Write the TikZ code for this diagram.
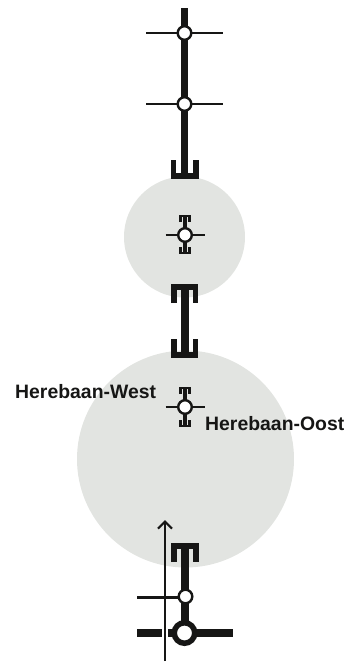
\documentclass[tikz,border=0pt]{standalone}
\usepackage{fontspec}
\setmainfont{Liberation Sans}
\usetikzlibrary{arrows.meta}
\definecolor{zonegrey}{HTML}{E2E4E1}
\definecolor{ink}{HTML}{161615}
\tikzset{
  zone/.style={circle,fill=zonegrey,draw=none,inner sep=0pt,minimum size=#1},
  halt/.style={circle,fill=white,draw=ink,line width=2.4pt,inner sep=0pt,outer sep=0pt,minimum size=13.6pt},
  bighalt/.style={circle,fill=white,draw=ink,line width=5.5pt,inner sep=0pt,outer sep=0pt,minimum size=20.5pt},
  crossline/.style={draw=ink,line width=2pt},
  thinline/.style={draw=ink,line width=3pt},
  mainline/.style={draw=ink,line width=7.5pt},
  wideline/.style={draw=ink,line width=7.5pt},
  forkbig/.style={draw=ink,line width=5.6pt,line cap=butt,miter limit=10},
  forksmall/.style={draw=ink,line width=2.3pt},
  stemsmall/.style={draw=ink,line width=3.6pt},
  label/.style={font=\bfseries\fontsize{19.4}{21}\selectfont,text=ink,inner sep=0pt,anchor=base west},
}
\begin{document}
\begin{tikzpicture}[x=1pt,y=-1pt]
\useasboundingbox (0,0) rectangle (348,662);
\node[zone=121pt] (zoneA) at (184.5,237) {};
\node[zone=217pt] (zoneB) at (185.5,459) {};
% top line
\coordinate (top) at (184.5,8);
\coordinate (u1) at (184.5,176);
\draw[mainline] (top) -- (u1);
\foreach \n/\y in {s1/33,s2/104}{
  \coordinate (\n l) at (146,\y);
  \coordinate (\n r) at (222.5,\y);
  \draw[crossline] (\n l) -- (\n r);
  \node[halt] (\n) at (184.5,\y) {};
}
\draw[forkbig] (173.5,160) -- (173.5,176.2) -- (196,176.2) -- (196,160);
% zone A stop
\draw[stemsmall] (185,216) -- (185,253);
\draw[forksmall] (180.5,222) -- (180.5,216) -- (189.5,216) -- (189.5,222);
\draw[forksmall] (180.5,247) -- (180.5,253) -- (189.5,253) -- (189.5,247);
\coordinate (a1) at (165.5,235);
\coordinate (a2) at (204.5,235);
\draw[crossline] (a1) -- (a2);
\node[halt] (sA) at (185,235) {};
% middle link
\draw[draw=ink,line width=8pt] (185,286) -- (185,355);
\draw[forkbig] (173.8,303) -- (173.8,286.8) -- (195.6,286.8) -- (195.6,303);
\draw[forkbig] (173.8,339) -- (173.8,355) -- (195.6,355) -- (195.6,339);
% zone B stop
\draw[stemsmall] (185,388) -- (185,426);
\draw[forksmall] (180.5,394) -- (180.5,388) -- (189.5,388) -- (189.5,394);
\draw[forksmall] (180.5,420) -- (180.5,426) -- (189.5,426) -- (189.5,420);
\coordinate (b1) at (165.5,407);
\coordinate (b2) at (204.5,407);
\draw[crossline] (b1) -- (b2);
\node[halt] (sB) at (185,407) {};
\node[label] (west) at (15,398) {Herebaan-West};
\node[label] (oost) at (205,430) {Herebaan-Oost};
% bottom
\coordinate (w1) at (137,633);
\coordinate (w2) at (233,633);
\draw[wideline] (w1) -- (w2);
\coordinate (c1) at (137,597);
\draw[thinline] (c1) -- (185.5,597);
\draw[draw=ink,line width=7.5pt] (185,546) -- (185,633);
\draw[forkbig] (173.8,562) -- (173.8,545.8) -- (196.2,545.8) -- (196.2,562);
\node[halt] (sC) at (185.5,596.5) {};
\node[bighalt] (sD) at (184.5,633) {};
\coordinate (ar1) at (165,661);
\coordinate (ar2) at (165,520);
\draw[white,line width=6.5pt] (165,627) -- (165,639);
\draw[draw=ink,line width=2.6pt,-{Straight Barb[length=7pt,width=14pt,line width=2.2pt]}] (ar1) -- (ar2);
\end{tikzpicture}
\end{document}
